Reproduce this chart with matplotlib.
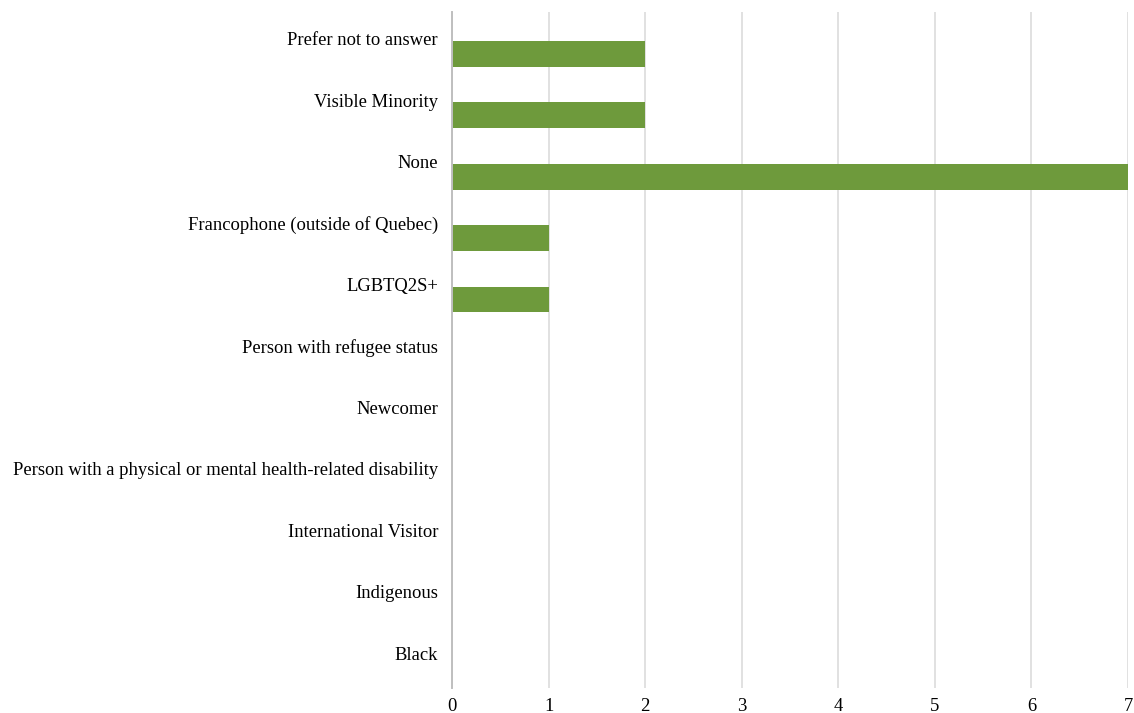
import numpy as np
import matplotlib.pyplot as plt
import matplotlib.transforms as mtransforms

categories = ["Prefer not to answer", "Visible Minority", "None",
              "Francophone (outside of Quebec)", "LGBTQ2S+",
              "Person with refugee status", "Newcomer",
              "Person with a physical or mental health-related disability",
              "International Visitor", "Indigenous", "Black"]
counts = [2, 2, 7, 1, 1, 0, 0, 0, 0, 0, 0]
x_ticks = [0, 1, 2, 3, 4, 5, 6, 7]

plt.rcParams['font.family'] = ['Liberation Serif', 'DejaVu Serif']

fig = plt.figure(figsize=(11.34, 7.13), dpi=100)
ax = fig.add_axes([0.3986, 0.0351, 0.5961, 0.9481])

pos = np.arange(len(categories))
# bars sit in the lower half of each category band (second series slot)
ax.barh(pos + 0.18, counts, height=0.42, color='#6E9A3C', zorder=3)

ax.set_xlim(0, 7)
ax.set_ylim(len(categories) - 0.5, -0.5)
ax.set_xticks(x_ticks)
ax.set_yticks(pos)
ax.set_yticklabels(categories)
ax.tick_params(axis='both', length=0, labelsize=13.4)
ax.tick_params(axis='y', pad=10)
ax.tick_params(axis='x', pad=7)

# nudge category labels up a little, like the original
shift = mtransforms.ScaledTranslation(0, 4 / 100, fig.dpi_scale_trans)
for lbl in ax.get_yticklabels():
    lbl.set_transform(lbl.get_transform() + shift)

ax.grid(axis='x', color='#D9D9D9', linewidth=1.1, zorder=0)
for s in ['top', 'right', 'bottom']:
    ax.spines[s].set_visible(False)
ax.spines['left'].set_color('#BFBFBF')
ax.spines['left'].set_linewidth(1.4)
ax.spines['left'].set_zorder(4)

fig.savefig('out.png', dpi=100)
